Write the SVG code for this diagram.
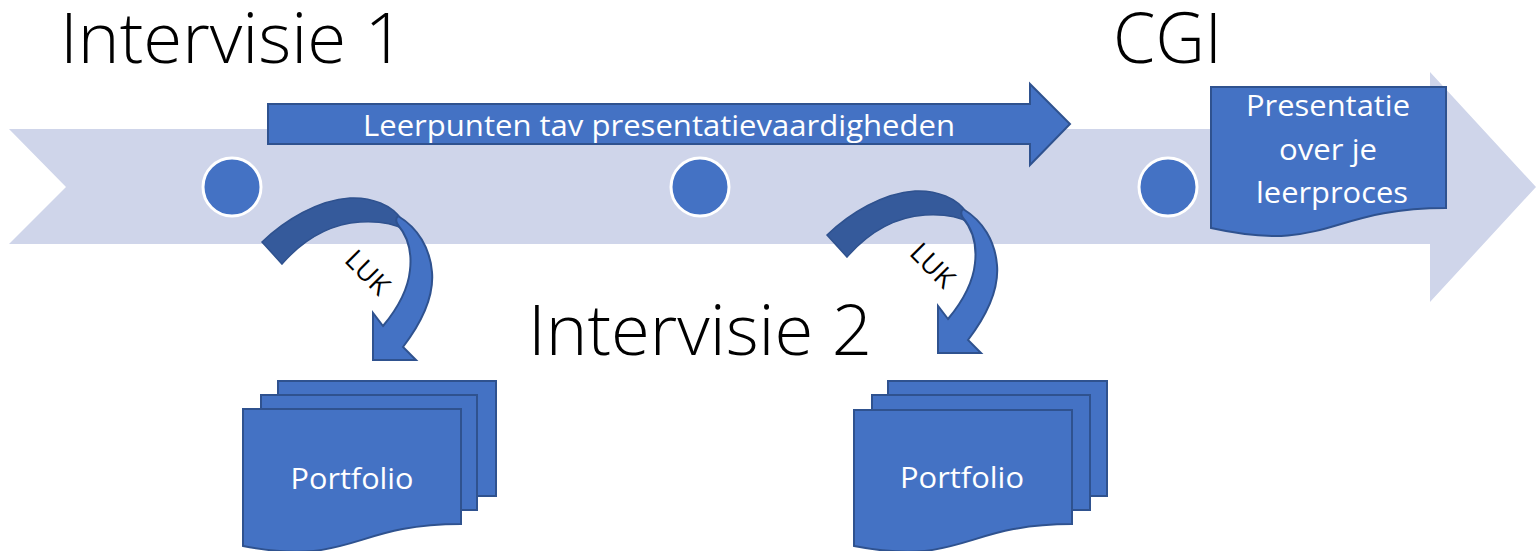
<svg xmlns="http://www.w3.org/2000/svg" width="1536" height="551" viewBox="0 0 1536 551">
<style>
.title{font-family:"Open Sans","Liberation Sans",sans-serif;font-weight:300;font-size:70px;fill:#000}
.wt{font-family:"Open Sans","Liberation Sans",sans-serif;font-size:29px;fill:#fff;text-anchor:middle}
.shape{fill:#4472C4;stroke:#2F528F;stroke-width:2}
.dot{fill:#4472C4;stroke:#fff;stroke-width:3}
.dark{fill:#355A9B;stroke:#2F528F;stroke-width:1.5}
.luk{font-family:"Open Sans","Liberation Sans",sans-serif;font-size:27px;fill:#000;text-anchor:middle}
</style>
<rect width="1536" height="551" fill="#fff"/>
<g id="timeline">
<polygon points="9,129 1430,129 1430,72 1536,187 1430,302 1430,244 9,244 66,187" fill="#CFD5EA"/>
</g>
<g id="title-intervisie1"><text class="title" x="60" y="63" textLength="345" lengthAdjust="spacingAndGlyphs">Intervisie 1</text></g>
<g id="title-cgi"><text class="title" x="1113" y="63" textLength="109" lengthAdjust="spacingAndGlyphs">CGI</text></g>
<g id="title-intervisie2"><text class="title" x="528" y="355" textLength="344" lengthAdjust="spacingAndGlyphs">Intervisie 2</text></g>
<g id="leerpunten">
<polygon class="shape" points="268,104 1030,104 1030,84 1070,124 1030,165 1030,144 268,144"/>
<text class="wt" x="659" y="136" font-size="27" textLength="592" lengthAdjust="spacingAndGlyphs">Leerpunten tav presentatievaardigheden</text>
</g>
<g id="dot1"><circle class="dot" cx="232" cy="187" r="29"/></g>
<g id="dot2"><circle class="dot" cx="700" cy="187" r="29"/></g>
<g id="dot3"><circle class="dot" cx="1168" cy="187" r="29"/></g>
<g id="presentatie">
<path class="shape" d="M1211,87 H1446 V208 C1328,208 1328,254 1211,228 Z"/>
<text class="wt" x="1328" y="116" textLength="164" lengthAdjust="spacingAndGlyphs">Presentatie</text>
<text class="wt" x="1328" y="160" textLength="98" lengthAdjust="spacingAndGlyphs">over je</text>
<text class="wt" x="1332" y="203" textLength="152" lengthAdjust="spacingAndGlyphs">leerproces</text>
</g>
<g id="portfolio1">
<rect class="shape" x="278" y="381" width="218" height="115"/>
<rect class="shape" x="261" y="395" width="216" height="115"/>
<path class="shape" d="M243,409 H461 V524 C352,524 352,567 243,546 Z"/>
<text class="wt" x="352" y="489" textLength="123" lengthAdjust="spacingAndGlyphs">Portfolio</text>
</g>
<g id="portfolio2">
<rect class="shape" x="888" y="381" width="219" height="115"/>
<rect class="shape" x="872" y="395" width="218" height="115"/>
<path class="shape" d="M854,410 H1072 V524 C963,524 963,567 854,546 Z"/>
<text class="wt" x="962" y="488" textLength="124" lengthAdjust="spacingAndGlyphs">Portfolio</text>
</g>
<g id="connectors">
<g id="luk1">
<path class="dark" d="M262,242 C285,220 318,200 350,198 C372,197 392,205 402,220 L405,230 C395,224 378,221 360,222 C330,224 303,240 282,264 Z"/>
<path class="shape" stroke-width="1.5" d="M398,216 C418,228 430,248 432,272 C434,295 422,322 403,347 L416,360 L373,360 L373,313 L383,326 C398,308 408,290 410,270 C412,252 409,238 398,225 C396,222 395,219 398,216 Z"/>
<text class="luk" transform="translate(368,272) rotate(45)" y="10">LUK</text>
</g>
<g id="luk2" transform="translate(565,-7)">
<path class="dark" d="M262,242 C285,220 318,200 350,198 C372,197 392,205 402,220 L405,230 C395,224 378,221 360,222 C330,224 303,240 282,264 Z"/>
<path class="shape" stroke-width="1.5" d="M398,216 C418,228 430,248 432,272 C434,295 422,322 403,347 L416,360 L373,360 L373,313 L383,326 C398,308 408,290 410,270 C412,252 409,238 398,225 C396,222 395,219 398,216 Z"/>
<text class="luk" transform="translate(368,272) rotate(45)" y="10">LUK</text>
</g>
</g>
</svg>
